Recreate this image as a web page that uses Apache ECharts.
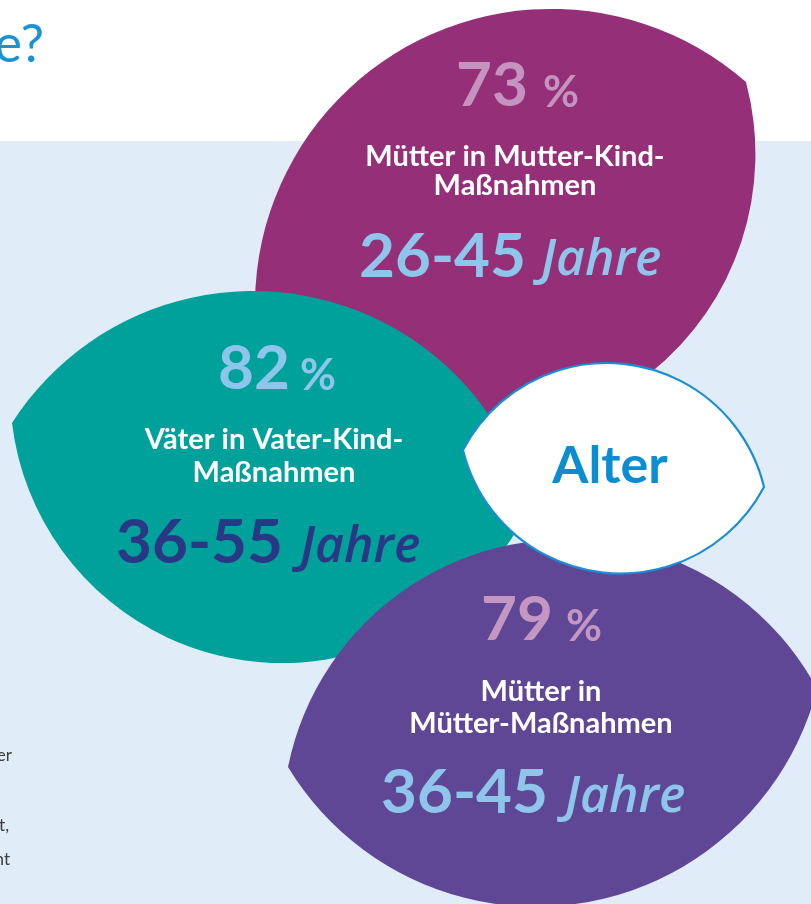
<!DOCTYPE html>
<html>
<head>
<meta charset="utf-8">
<script src="https://cdn.jsdelivr.net/npm/echarts@6/dist/echarts.min.js"></script>
<style>
  html, body { margin: 0; padding: 0; }
  body { background: linear-gradient(#ffffff 0, #ffffff 141px, #e0edf8 141px); }
  #chart { width: 811px; height: 904px; }
</style>
</head>
<body>
<div id="chart"></div>
<script>
// data
const groups = ['Mütter in Mutter-Kind-\nMaßnahmen', 'Väter in Vater-Kind-\nMaßnahmen', 'Mütter in\nMütter-Maßnahmen'];
const shares = [73, 82, 79];
const ageRanges = ['26-45', '36-55', '36-45'];
const unitLabel = 'Jahre';
const centerLabel = 'Alter';

// leaf layout (tips + one point on each side, arcs are circles through them)
const leaves = [
  { fill: '#952f78', shareColor: '#c493c0', ageColor: '#8ec5ea',
    tipA: [746, 82], tipB: [256, 330], viaA: [544, 9], viaB: [640, 381],
    shareRight: 528, shareY: 86, pctX: 543, pctY: 93,
    labelX: 515, labelY: [157, 186],
    ageRight: 526, ageY: 257, unitX: 541, unitY: 261 },
  { fill: '#00a19a', shareColor: '#8ec5ea', ageColor: '#2a3784',
    tipA: [12, 423], tipB: [530, 505], viaA: [250, 291], viaB: [290, 663],
    shareRight: 290, shareY: 369, pctX: 300, pctY: 376,
    labelX: 274, labelY: [440, 473],
    ageRight: 283, ageY: 543, unitX: 300, unitY: 548 },
  { fill: '#604796', shareColor: '#c496c2', ageColor: '#8ec5ea',
    tipA: [288, 767], tipB: [817, 689], viaA: [400, 593], viaB: [633, 890],
    shareRight: 553, shareY: 620, pctX: 566, pctY: 627,
    labelX: 541, labelY: [692, 724],
    ageRight: 548, ageY: 793, unitX: 565, unitY: 798 }
];
const centerLeaf = { tipA: [463, 450], tipB: [764, 487], viaA: [607, 363], viaB: [607, 573],
  labelX: 610, labelY: 466 };

const FONT = 'Lato, "Open Sans", sans-serif';
const UNIT_FONT = '"Open Sans", Lato, sans-serif';

function circleThrough(p1, p2, p3) {
  const ax = p1[0], ay = p1[1], bx = p2[0], by = p2[1], cx = p3[0], cy = p3[1];
  const d = 2 * (ax * (by - cy) + bx * (cy - ay) + cx * (ay - by));
  const a2 = ax * ax + ay * ay, b2 = bx * bx + by * by, c2 = cx * cx + cy * cy;
  const ux = (a2 * (by - cy) + b2 * (cy - ay) + c2 * (ay - by)) / d;
  const uy = (a2 * (cx - bx) + b2 * (ax - cx) + c2 * (bx - ax)) / d;
  return [ux, uy, Math.hypot(ax - ux, ay - uy)];
}

function arcTo(from, via, to) {
  const c = circleThrough(from, via, to);
  const cross = (via[0] - from[0]) * (to[1] - via[1]) - (via[1] - from[1]) * (to[0] - via[0]);
  const side = p => (to[0] - from[0]) * (p[1] - from[1]) - (to[1] - from[1]) * (p[0] - from[0]);
  const large = side(via) * side(c) > 0 ? 1 : 0;
  const sweep = cross > 0 ? 1 : 0;
  const r = c[2].toFixed(2);
  return 'A' + r + ' ' + r + ' 0 ' + large + ' ' + sweep + ' ' + to[0] + ' ' + to[1];
}

function leafPath(l) {
  return 'M' + l.tipA[0] + ' ' + l.tipA[1] + ' ' + arcTo(l.tipA, l.viaA, l.tipB) + ' ' + arcTo(l.tipB, l.viaB, l.tipA) + ' Z';
}

function txt(text, x, y, size, fill, align, extra) {
  return {
    type: 'text',
    style: Object.assign({
      text: text, x: x, y: y, fill: fill,
      fontSize: size, fontFamily: FONT, fontWeight: 'bold',
      align: align, verticalAlign: 'middle'
    }, extra || {})
  };
}

const chart = echarts.init(document.getElementById('chart'), null, { renderer: 'canvas' });

chart.setOption({
  backgroundColor: 'transparent',
  animation: false,
  graphic: [
    txt('oder', 110, -18, 52, '#1a93d5', 'right', { fontWeight: 'normal' }),
    txt('Maßnahme?', 44, 45, 52, '#1a93d5', 'right', { fontWeight: 'normal' }),
    txt('oder', 12, 756, 17, '#3c3c3c', 'right', { fontWeight: 'normal' }),
    txt('ist,', 9, 826, 17, '#3c3c3c', 'right', { fontWeight: 'normal' }),
    txt('nicht', 10, 860, 17, '#3c3c3c', 'right', { fontWeight: 'normal' })
  ],
  series: [{
    type: 'custom',
    coordinateSystem: 'none',
    z: 10,
    data: shares.map((v, i) => [i, v]),
    renderItem: function (params, api) {
      const i = params.dataIndex;
      const l = leaves[i];
      const share = api.value(1);
      const lines = groups[i].split('\n');
      const children = [
        { type: 'path', shape: { pathData: leafPath(l) }, style: { fill: l.fill } },
        txt(String(share), l.shareRight, l.shareY, 62, l.shareColor, 'right'),
        txt('%', l.pctX, l.pctY, 44, l.shareColor, 'left'),
        txt(ageRanges[i], l.ageRight, l.ageY, 62, l.ageColor, 'right'),
        txt(unitLabel, l.unitX, l.unitY, 50, l.ageColor, 'left',
          { fontStyle: 'italic', fontWeight: 600, fontFamily: UNIT_FONT })
      ];
      lines.forEach((line, k) => {
        children.push(txt(line, l.labelX, l.labelY[k], 29, '#ffffff', 'center'));
      });
      return { type: 'group', children: children };
    }
  }, {
    type: 'custom',
    coordinateSystem: 'none',
    z: 20,
    data: [[0]],
    renderItem: function () {
      return { type: 'group', children: [
        { type: 'path', shape: { pathData: leafPath(centerLeaf) },
          style: { fill: '#ffffff', stroke: '#1a8ed4', lineWidth: 2.2 } },
        txt(centerLabel, centerLeaf.labelX, centerLeaf.labelY, 52, '#0a8dd3', 'center')
      ]};
    }
  }]
});
</script>
</body>
</html>
